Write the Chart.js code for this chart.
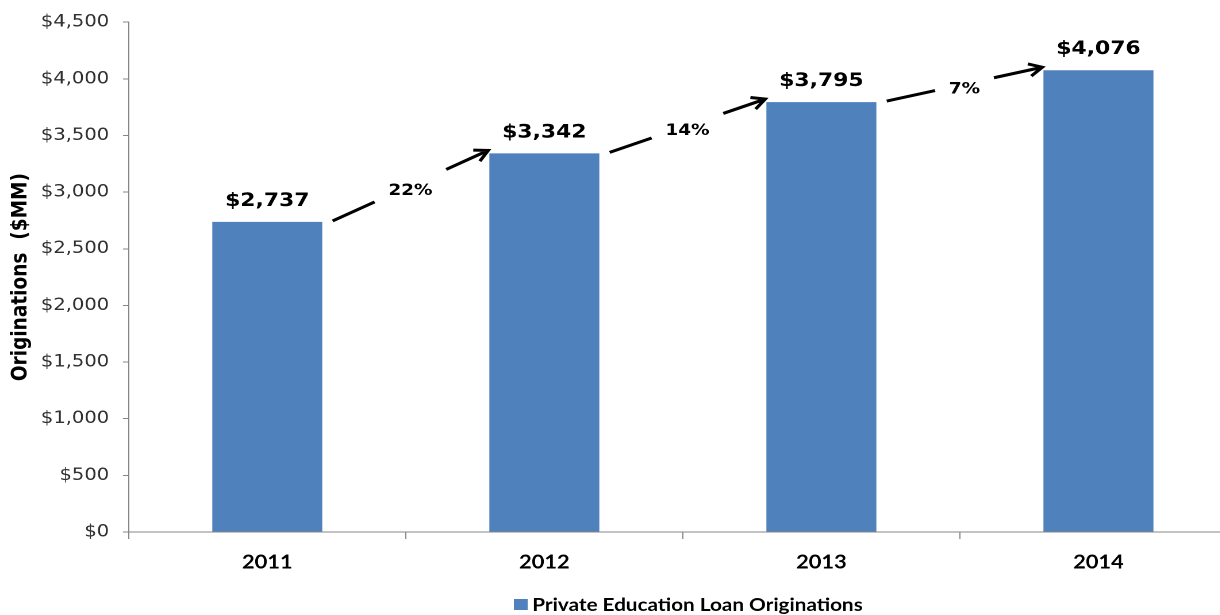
<!DOCTYPE html>
<html lang="en">
<head>
<meta charset="UTF-8">
<title>Private Education Loan Originations</title>
<script src="https://cdn.jsdelivr.net/npm/chart.js"></script>
<style>
  html, body { margin: 0; padding: 0; overflow: hidden; background: #fff; }
</style>
</head>
<body>
<canvas id="chart" width="1083" height="615" style="width:1245px;height:615px;"></canvas>
<script>
// Data
const years = ['2011', '2012', '2013', '2014'];
const originations = [2737, 3342, 3795, 4076];
const growthLabels = ['22%', '14%', '7%'];
const seriesName = 'Private Education Loan Originations';
const axisTitle = 'Originations  ($MM)';

const barColor = '#4F81BD';
const axisColor = '#868686';

const money = v => '$' + Number(v).toLocaleString('en-US');

// value labels above bars, growth arrows between them, legend at the bottom
const annotate = {
    id: 'annotate',
    afterDatasetsDraw(chart) {
        const ctx = chart.ctx;
        const bars = chart.getDatasetMeta(0).data;
        ctx.save();
        ctx.fillStyle = '#000';
        ctx.textAlign = 'center';
        ctx.textBaseline = 'middle';
        ctx.font = 'bold 19px "DejaVu Sans"';
        bars.forEach((b, i) => {
            ctx.fillText(money(originations[i]), b.x, b.y - 21);
        });

        ctx.strokeStyle = '#000';
        ctx.lineWidth = 3;
        ctx.lineCap = 'butt';
        ctx.font = 'bold 16px "DejaVu Sans"';
        for (let i = 0; i < bars.length - 1; i++) {
            const a = bars[i], b = bars[i + 1];
            const x0 = a.x + a.width / 2 + 9, y0 = a.y - 1;
            const x1 = b.x - b.width / 2 - 1, y1 = b.y - 3;
            const dx = x1 - x0, dy = y1 - y0;
            const len = Math.hypot(dx, dy);
            const mx = (x0 + x1) / 2, my = (y0 + y1) / 2;
            const tw = ctx.measureText(growthLabels[i]).width;
            const gap = (tw / 2 + 12) / (dx / len) / len;
            ctx.beginPath();
            ctx.moveTo(x0, y0);
            ctx.lineTo(x0 + dx * (0.5 - gap), y0 + dy * (0.5 - gap));
            ctx.moveTo(x0 + dx * (0.5 + gap), y0 + dy * (0.5 + gap));
            ctx.lineTo(x1, y1);
            // open arrow head
            const ang = Math.atan2(dy, dx);
            const h = 13;
            ctx.moveTo(x1 - h * Math.cos(ang - 0.5), y1 - h * Math.sin(ang - 0.5));
            ctx.lineTo(x1, y1);
            ctx.lineTo(x1 - h * Math.cos(ang + 0.5), y1 - h * Math.sin(ang + 0.5));
            ctx.stroke();
            ctx.fillText(growthLabels[i], mx, my + 5);
        }

        // legend
        ctx.fillStyle = barColor;
        ctx.fillRect(447, 599, 12, 11);
        ctx.fillStyle = '#000';
        ctx.textAlign = 'left';
        ctx.font = 'bold 18px Lato';
        ctx.fillText(seriesName, 463, 605);
        ctx.restore();
    }
};

new Chart(document.getElementById('chart'), {
    type: 'bar',
    data: {
        labels: years,
        datasets: [{
            label: seriesName,
            data: originations,
            backgroundColor: barColor,
            borderWidth: 0,
            barPercentage: 0.397,
            categoryPercentage: 1.0
        }]
    },
    options: {
        responsive: false,
        devicePixelRatio: 2,
        animation: false,
        events: [],
        layout: { padding: { top: 20, right: 7, left: 0, bottom: 0 } },
        plugins: {
            tooltip: { enabled: false },
            legend: { display: false }
        },
        scales: {
            x: {
                grid: { display: true, drawOnChartArea: false, drawTicks: true, tickLength: 7, color: axisColor, offset: true },
                border: { color: axisColor, width: 1 },
                ticks: { color: '#000', padding: 12, font: { family: 'Lato', weight: 'bold', size: 19 } },
                afterFit(scale) { scale.height = 615 - 532; }
            },
            y: {
                min: 0,
                max: 4500,
                ticks: { stepSize: 500, color: '#303030', padding: 12, font: { family: 'DejaVu Sans', size: 17 }, callback: v => money(v) },
                grid: { display: true, drawOnChartArea: false, drawTicks: true, tickLength: 5, color: axisColor },
                border: { color: axisColor, width: 1 },
                title: { display: true, text: axisTitle, color: '#000', padding: { top: 7, bottom: 0 }, font: { family: 'DejaVu Sans', weight: 'bold', size: 18.5 } },
                afterFit(scale) { scale.width = 112; }
            }
        }
    },
    plugins: [annotate]
});
</script>
</body>
</html>
